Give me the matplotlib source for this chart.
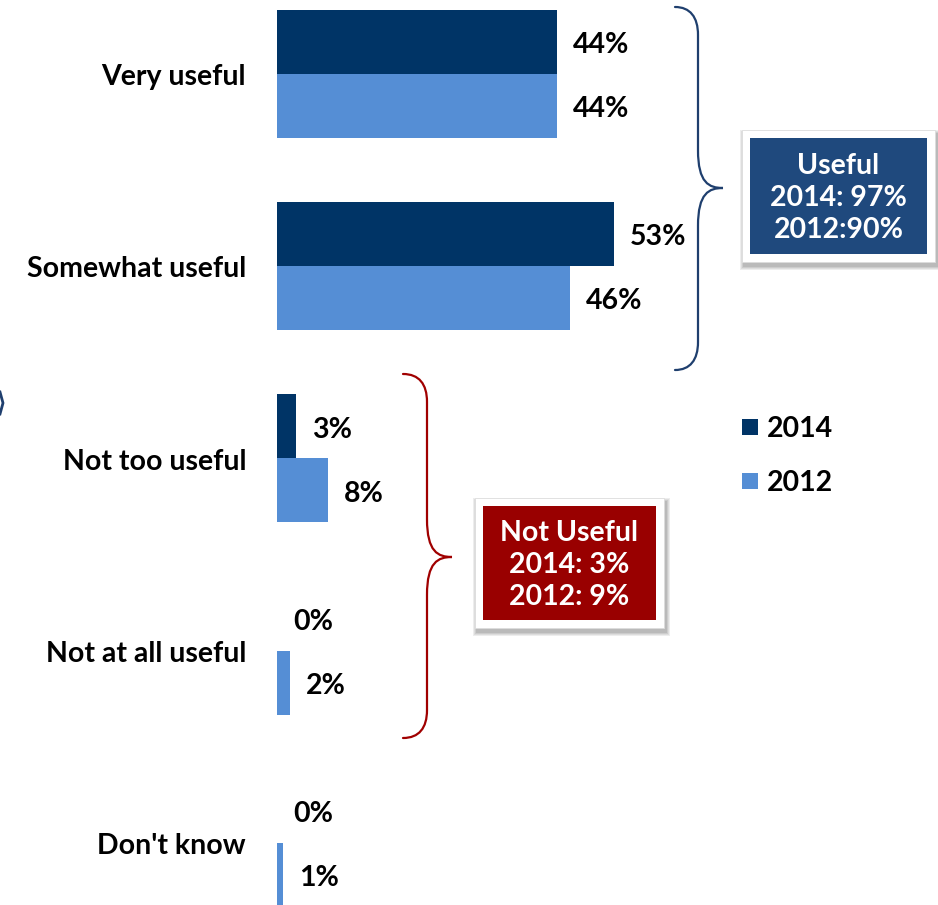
import matplotlib
matplotlib.use('Agg')
import matplotlib.pyplot as plt
from matplotlib.path import Path
from matplotlib.patches import PathPatch, Rectangle

categories = ['Very useful', 'Somewhat useful', 'Not too useful',
              'Not at all useful', "Don't know"]
pct_2014 = [44, 53, 3, 0, 0]
pct_2012 = [44, 46, 8, 2, 1]
series_names = ['2014', '2012']

useful_text = 'Useful\n2014: 97%\n2012:90%'
not_useful_text = 'Not Useful\n2014: 3%\n2012: 9%'

dark_blue = '#003466'
light_blue = '#558ED5'
box_blue = '#1F497D'
box_red = '#990000'

W, H = 938, 905
plt.rcParams['font.family'] = ['Lato', 'DejaVu Sans']
plt.rcParams['font.weight'] = 'bold'
fs = 20.5

fig = plt.figure(figsize=(W / 100, H / 100), dpi=100)
ax = fig.add_axes([0, 0, 1, 1])

# x: percent, zero at pixel 277, 6.36 px per percent
px_per_pct = 6.36
x0 = 277
ax.set_xlim(-x0 / px_per_pct, (W - x0) / px_per_pct)
# y: category index, first centre at pixel 74, 192.25 px apart
step = 192.25
ax.set_ylim((H - 74) / step, -74 / step)
ax.axis('off')

bh = 64 / step
ys = range(len(categories))
ax.barh([y - bh / 2 for y in ys], pct_2014, height=bh, color=dark_blue)
ax.barh([y + bh / 2 for y in ys], pct_2012, height=bh, color=light_blue)

off = 16 / px_per_pct
dy = 3 / step  # nudge text down a little
for y, a, b in zip(ys, pct_2014, pct_2012):
    ax.text(a + off, y - bh / 2 + dy, f'{a}%', ha='left', va='center', fontsize=fs)
    ax.text(b + off, y + bh / 2 + dy, f'{b}%', ha='left', va='center', fontsize=fs)
for y, name in zip(ys, categories):
    ax.text(-31 / px_per_pct, y + dy, name, ha='right', va='center', fontsize=fs)

# overlay in pixel units for braces, boxes and legend
ov = fig.add_axes([0, 0, 1, 1])
ov.set_xlim(0, W)
ov.set_ylim(H, 0)
ov.axis('off')
ov.patch.set_alpha(0)


def brace(x_end, x_mid, x_tip, y_top, y_tip, y_bot, color):
    r = 28
    verts = [(x_end, y_top),
             (x_mid - 8, y_top), (x_mid, y_top + 10), (x_mid, y_top + r),
             (x_mid, y_tip - 38),
             (x_mid, y_tip - 5), (x_tip - 14, y_tip), (x_tip, y_tip),
             (x_tip - 14, y_tip), (x_mid, y_tip + 5), (x_mid, y_tip + 38),
             (x_mid, y_bot - r),
             (x_mid, y_bot - 10), (x_mid - 8, y_bot), (x_end, y_bot)]
    codes = [Path.MOVETO,
             Path.CURVE4, Path.CURVE4, Path.CURVE4,
             Path.LINETO,
             Path.CURVE4, Path.CURVE4, Path.CURVE4,
             Path.CURVE4, Path.CURVE4, Path.CURVE4,
             Path.LINETO,
             Path.CURVE4, Path.CURVE4, Path.CURVE4]
    ov.add_patch(PathPatch(Path(verts, codes), fill=False, edgecolor=color,
                           lw=1.6, capstyle='round'))


brace(675, 698, 723, 7, 188, 370, '#1F3F6E')
brace(403, 427, 452, 374, 557, 738, '#A00000')

# small arrow tip cut off at the left edge
ov.plot([0, 3, 0], [392, 403, 414], color='#1F3F6E', lw=2)


def callout(x, y, w, h, color, text):
    for k, a in enumerate([0.10, 0.10, 0.12, 0.15]):
        g = 4 - k
        ov.add_patch(Rectangle((x + 2 - g, y + 4 - g), w + 2 * g, h + 2 * g,
                               facecolor='#555555', edgecolor='none', alpha=a))
    ov.add_patch(Rectangle((x, y), w, h, facecolor='white', edgecolor='#DDDDDD',
                           lw=0.6))
    ov.add_patch(Rectangle((x + 8, y + 8), w - 16, h - 16, facecolor=color,
                           edgecolor='none'))
    ov.text(x + w / 2, y + h / 2 + 2, text, ha='center', va='center',
            color='white', fontsize=fs, linespacing=1.3)


callout(742, 130, 193, 132, box_blue, useful_text)
callout(475, 498, 189, 130, box_red, not_useful_text)

# legend
for (name, c), yy in zip(zip(series_names, [dark_blue, light_blue]), [427, 481]):
    ov.add_patch(Rectangle((742, yy - 8), 16, 16, facecolor=c, edgecolor='none'))
    ov.text(767, yy + 2, name, ha='left', va='center', fontsize=fs)

fig.savefig('out.png', dpi=100, facecolor='white')
